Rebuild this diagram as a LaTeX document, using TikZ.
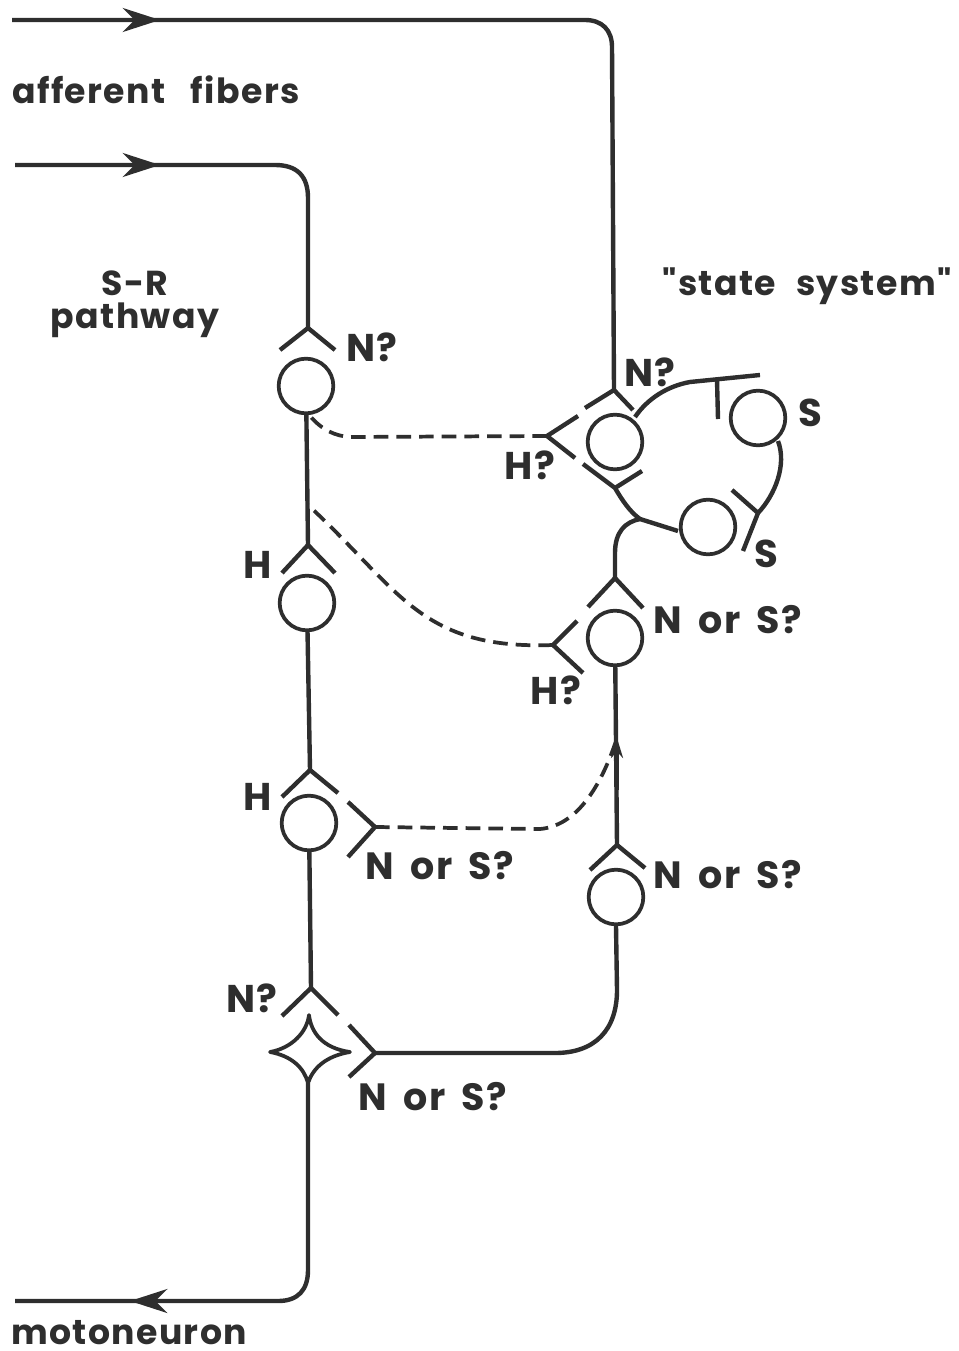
\documentclass[tikz,border=0pt]{standalone}
\usepackage{fontspec}
\setmainfont{Poppins}
\newfontfamily\lblfont[LetterSpace=4,WordSpace=1.7]{Poppins Bold}
\usetikzlibrary{arrows.meta}
\definecolor{ink}{HTML}{2E2E2E}
\tikzset{
 wire/.style={draw=ink,line width=3.3pt,line join=round},
 arm/.style={wire},
 dash line/.style={wire,dash pattern=on 11pt off 6pt,line width=2.8pt},
 soma/.style={circle,draw=ink,line width=2.8pt,minimum size=41pt,inner sep=0pt,fill=white},
 tipline/.style={wire,-{Stealth[length=28pt,width=18pt]}},
 lbl/.style={text=ink,font=\fontsize{26}{25}\selectfont\lblfont,inner sep=0pt,align=center},
 mid/.style={lbl,font=\fontsize{28.5}{30}\selectfont\lblfont},
 big/.style={lbl,font=\fontsize{29}{32}\selectfont\lblfont},
}
\begin{document}
\begin{tikzpicture}[x=0.75pt,y=-0.75pt]
\useasboundingbox (0,0) rectangle (958,1351);
% somata
\node[soma] (c1) at (306,386) {};
\node[soma] (c2) at (307,603) {};
\node[soma] (c3) at (309,823) {};
\node[soma] (s0) at (615,442) {};
\node[soma] (s1) at (758,418) {};
\node[soma] (s2) at (708,527) {};
\node[soma] (r1) at (615,638) {};
\node[soma] (r2) at (616,897) {};
% coordinates
\coordinate (inA) at (12,20);
\coordinate (tipA) at (160,20);
\coordinate (inB) at (15,165);
\coordinate (tipB) at (160,165);
\coordinate (y1) at (308,328);
\coordinate (y2) at (308,545);
\coordinate (y3) at (310,770);
\coordinate (y4) at (311,988);
\coordinate (y5) at (375,827);
\coordinate (y6) at (375,1053);
\coordinate (yN) at (614,390);
\coordinate (yH) at (547,436);
\coordinate (yH2) at (553,645);
\coordinate (yR) at (615,578);
\coordinate (yR2) at (617,845);
\coordinate (tipUp) at (617,738);
\coordinate (tipM) at (130,1301);
\coordinate (outM) at (15,1301);
\coordinate (mjoin) at (640,519);
\coordinate (tee) at (717,380);
\coordinate (teeEnd) at (760,375);
\coordinate (bj) at (615,488);
\coordinate (ys) at (758,513);
\coordinate (dtop) at (308,505);
% pathways
\draw[wire] (inA) -- (585,20) .. controls (602,20) and (612,30) .. (612,47) -- (yN);
\draw[tipline] (inA) -- (tipA);
\draw[wire] (inB) -- (275,165) .. controls (297,165) and (308,176) .. (308,198) -- (y1);
\draw[tipline] (inB) -- (tipB);
\draw[wire] (c1) -- (y2);
\draw[wire] (c2) -- (y3);
\draw[wire] (c3) -- (y4);
% motoneuron star
\node[inner sep=0pt] (star) at (309,1052) {};
\draw[wire,line width=2.8pt,fill=white] (309,1015) .. controls (311,1032) and (322,1048) .. (350,1052)
  .. controls (326,1056) and (313,1068) .. (308,1083)
  .. controls (304,1068) and (292,1056) .. (270,1052)
  .. controls (292,1048) and (307,1032) .. (309,1015) -- cycle;
\draw[wire] (308,1083) -- (308,1270) .. controls (308,1290) and (298,1301) .. (278,1301) -- (outM);
\draw[tipline] (278,1301) -- (tipM);
% right chain
\draw[wire] (r1) -- (yR2);
\draw[wire,-{Stealth[length=15pt,width=9pt]}] (617,790) -- (tipUp);
\draw[wire] (r2.south) -- (617,990) .. controls (617,1030) and (595,1053) .. (555,1053) -- (y6);
% Y terminals
\draw[arm] (y1) -- (280,350);  \draw[arm] (y1) -- (335,350);
\draw[arm] (y2) -- (282,573);  \draw[arm] (y2) -- (335,573);
\draw[arm] (y3) -- (282,797);  \draw[arm] (y3) -- (338,793);
\draw[arm] (y4) -- (282,1016); \draw[arm] (y4) -- (338,1015);
\draw[arm] (y5) -- (348,802);  \draw[arm] (y5) -- (348,857);
\draw[arm] (y6) -- (349,1025); \draw[arm] (y6) -- (349,1077);
\draw[arm] (yN) -- (585,408);  \draw[arm] (yN) -- (633,410);
\draw[arm] (yH) -- (578,416);  \draw[arm] (yH) -- (575,458);
\draw[arm] (yH2) -- (577,621); \draw[arm] (yH2) -- (583,673);
\draw[arm] (yR) -- (588,607);  \draw[arm] (yR) -- (643,608);
\draw[arm] (yR2) -- (590,870); \draw[arm] (yR2) -- (645,868);
% state system loop
\draw[wire] (635,417) .. controls (648,398) and (668,386) .. (690,382) -- (teeEnd);
\draw[wire] (tee) -- (718,419);
\draw[wire] (778,441) .. controls (787,465) and (775,495) .. (ys);
\draw[arm] (ys) -- (732,490); \draw[arm] (ys) -- (743,551);
\draw[wire] (678,531) -- (mjoin) .. controls (630,512) and (622,500) .. (bj) -- (583,464);
\draw[arm] (bj) -- (642,471);
\draw[wire] (mjoin) .. controls (625,522) and (615,532) .. (615,553) -- (yR);
% dashed influences
\draw[dash line] (yH) -- (350,437) .. controls (335,436) and (322,430) .. (310,416);
\draw[dash line] (yH2) .. controls (420,650) and (400,590) .. (dtop);
\draw[dash line] (y5) -- (540,829) .. controls (575,826) and (600,790) .. (tipUp);
% labels
\node[lbl,anchor=west] (t1) at (12,90) {afferent\hspace{8pt} fibers};
\node[lbl] (t2) at (135,304) {S-R\\pathway};
\node[lbl] (t3) at (807,286) {"state\hspace{4pt} system"};
\node[big] (t4) at (372,347) {N?};
\node[big] (t5) at (650,372) {N?};
\node[big] (t6) at (530,465) {H?};
\node[big] (t7) at (810,413) {S};
\node[big] (t8) at (766,554) {S};
\node[mid] (t9) at (728,620) {N or S?};
\node[big] (t10) at (556,690) {H?};
\node[big] (t11) at (258,565) {H};
\node[big] (t12) at (258,797) {H};
\node[mid] (t13) at (440,866) {N or S?};
\node[mid] (t14) at (728,875) {N or S?};
\node[big] (t15) at (252,998) {N?};
\node[mid] (t16) at (433,1097) {N or S?};
\node[lbl] (t17) at (129,1333) {motoneuron};
\end{tikzpicture}
\end{document}
